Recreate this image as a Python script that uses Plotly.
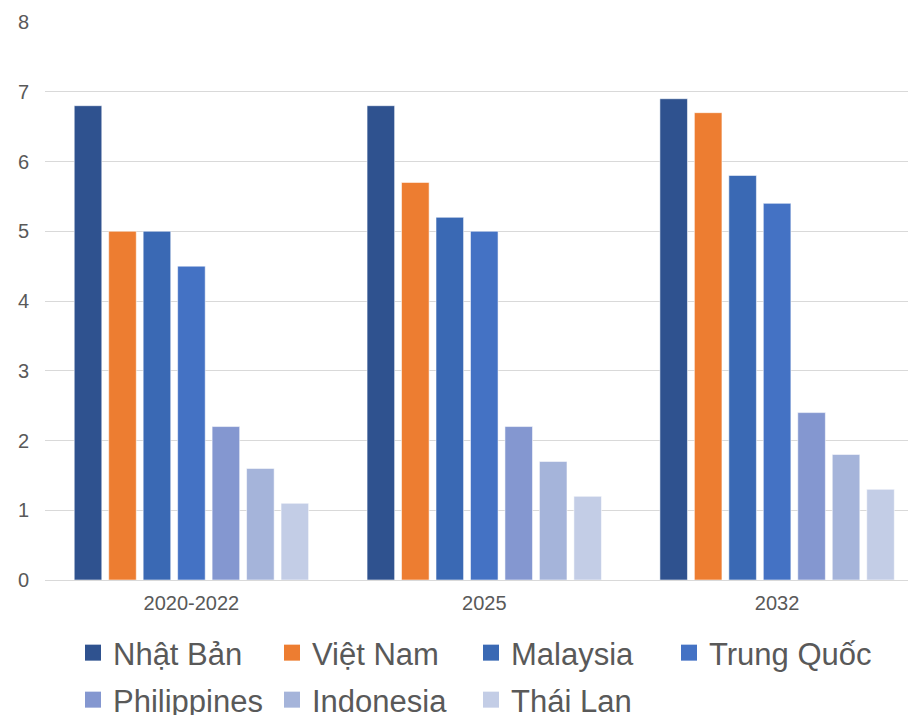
import plotly.graph_objects as go

categories = ["2020-2022", "2025", "2032"]
countries = ["Nhật Bản", "Việt Nam", "Malaysia", "Trung Quốc",
             "Philippines", "Indonesia", "Thái Lan"]
nhat_ban = [6.8, 6.8, 6.9]
viet_nam = [5.0, 5.7, 6.7]
malaysia = [5.0, 5.2, 5.8]
trung_quoc = [4.5, 5.0, 5.4]
philippines = [2.2, 2.2, 2.4]
indonesia = [1.6, 1.7, 1.8]
thai_lan = [1.1, 1.2, 1.3]
series = [nhat_ban, viet_nam, malaysia, trung_quoc, philippines, indonesia, thai_lan]
y_ticks = [0, 1, 2, 3, 4, 5, 6, 7, 8]

colors = ["#2F528F", "#ED7D31", "#3A69B4", "#4472C4",
          "#8497D0", "#A5B4DA", "#C3CDE6"]

TEXT = "#595959"
FONT = "Liberation Sans, Arial, sans-serif"

# which legend box each entry goes in (row 1 split so the last label is not clipped)
legend_of = ["legend", "legend", "legend", "legend3",
             "legend2", "legend2", "legend2"]

fig = go.Figure()
for name, vals, col in zip(countries, series, colors):
    fig.add_trace(go.Bar(
        x=categories, y=vals, name=name, showlegend=False,
        marker=dict(color=col, line=dict(color="rgba(255,255,255,0.55)", width=1)),
    ))

# legend entries: square swatches
for name, col, lg in zip(countries, colors, legend_of):
    fig.add_trace(go.Scatter(
        x=[None], y=[None], mode="markers", name=name,
        marker=dict(symbol="square", size=16, color=col),
        legend=lg,
    ))

legend_style = dict(
    orientation="h", xanchor="left", yanchor="middle",
    xref="container", yref="container",
    font=dict(family=FONT, size=31, color=TEXT),
    bgcolor="rgba(0,0,0,0)", itemclick=False,
)
row_entry = dict(entrywidth=154, entrywidthmode="pixels")

fig.update_layout(
    width=908, height=715,
    margin=dict(l=45, r=0, t=22, b=135),
    plot_bgcolor="white", paper_bgcolor="white",
    barmode="group", bargap=0.176, bargroupgap=0.2,
    font=dict(family=FONT, color=TEXT),
    xaxis=dict(
        type="category", range=[-0.5, 2.447],
        showgrid=False, showline=False, zeroline=False,
        tickfont=dict(size=20, color=TEXT), ticklabelstandoff=9,
    ),
    yaxis=dict(
        range=[0, 8], tickvals=y_ticks, showgrid=True,
        gridcolor="#D9D9D9", gridwidth=1.3, zeroline=True,
        zerolinecolor="#D9D9D9", zerolinewidth=1.3, showline=False,
        tickfont=dict(size=20, color=TEXT), ticklabelstandoff=15,
    ),
    legend=dict(x=73 / 908, y=(715 - 653) / 715, **legend_style, **row_entry),
    legend3=dict(x=669 / 908, y=(715 - 653) / 715, **legend_style),
    legend2=dict(x=73 / 908, y=(715 - 700) / 715, **legend_style, **row_entry),
)

fig.write_html("out.html")
